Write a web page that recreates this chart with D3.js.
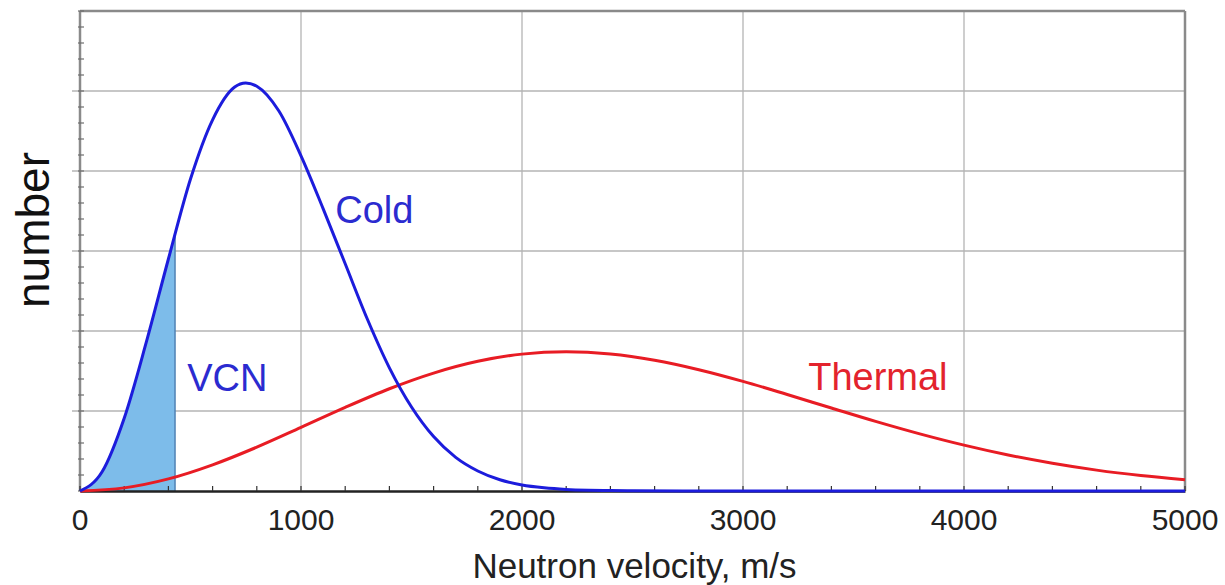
<!DOCTYPE html>
<html>
<head>
<meta charset="utf-8">
<script src="https://cdn.jsdelivr.net/npm/d3@7/dist/d3.min.js"></script>
<style>
  html, body { margin: 0; padding: 0; background: #fff; }
  svg { display: block; font-family: "Liberation Sans", Arial, sans-serif; }
</style>
</head>
<body>
<svg id="chart" width="1225" height="585"></svg>
<script>
// ---- data ----
const xTickValues = [0, 1000, 2000, 3000, 4000, 5000];
const xMinorStep = 200;
const yGridValues = [1, 2, 3, 4, 5];
const yMax = 6;
const xMax = 5000;

const coldV = [0, 100, 200, 300, 400, 500, 600, 700, 750, 800, 900, 1000, 1100, 1200, 1300, 1400,
               1500, 1600, 1700, 1800, 1900, 2000, 2100, 2200, 2300, 2400, 2500, 3000, 3500, 4000, 4500, 5000];
const coldN = [0, 0.24, 0.91, 1.86, 2.90, 3.90, 4.64, 5.05, 5.10, 5.06, 4.75, 4.19, 3.53, 2.84, 2.15, 1.54,
               1.05, 0.68, 0.42, 0.25, 0.14, 0.075, 0.04, 0.02, 0.01, 0.005, 0.002, 0, 0, 0, 0, 0];

const thermalV = [0, 200, 400, 600, 800, 1000, 1200, 1400, 1600, 1800, 2000, 2200, 2400, 2600,
                  2800, 3000, 3200, 3400, 3600, 3800, 4000, 4200, 4400, 4600, 4800, 5000];
const thermalN = [0, 0.039, 0.151, 0.327, 0.548, 0.795, 1.045, 1.278, 1.474, 1.621, 1.711, 1.74, 1.712, 1.634,
                  1.516, 1.370, 1.206, 1.037, 0.870, 0.714, 0.573, 0.450, 0.347, 0.261, 0.193, 0.140];

const vcnLimit = 430;

const labels = [
  { text: "Cold", v: 1155, n: 3.35, color: "#2b2bd0" },
  { text: "VCN", v: 485, n: 1.25, color: "#2b2bd0" },
  { text: "Thermal", v: 3295, n: 1.26, color: "#e3232d" }
];

// ---- layout ----
const svg = d3.select("#chart");
const mLeft = 80, mRight = 1185, mTop = 11, mBottom = 491;

const x = d3.scaleLinear().domain([0, xMax]).range([mLeft, mRight]);
const y = d3.scaleLinear().domain([0, yMax]).range([mBottom, mTop]);

// grid
svg.append("g").selectAll("line").data(yGridValues).join("line")
  .attr("x1", mLeft - 8).attr("x2", mRight)
  .attr("y1", d => y(d)).attr("y2", d => y(d))
  .attr("stroke", "#b4b4b4").attr("stroke-width", 1.3);

svg.append("g").selectAll("line").data(xTickValues.filter(d => d > 0 && d < xMax)).join("line")
  .attr("x1", d => x(d)).attr("x2", d => x(d))
  .attr("y1", mTop).attr("y2", mBottom)
  .attr("stroke", "#b4b4b4").attr("stroke-width", 1.3);

// frame
svg.append("line").attr("x1", mLeft).attr("x2", mRight).attr("y1", mTop).attr("y2", mTop)
  .attr("stroke", "#8a8a8a").attr("stroke-width", 2.5);
svg.append("line").attr("x1", mRight).attr("x2", mRight).attr("y1", mTop).attr("y2", mBottom)
  .attr("stroke", "#8a8a8a").attr("stroke-width", 2.5);
svg.append("line").attr("x1", mLeft).attr("x2", mLeft).attr("y1", mTop).attr("y2", mBottom)
  .attr("stroke", "#8a8a8a").attr("stroke-width", 2.5);

// left axis minor ticks
const yMinor = d3.range(0, yMax + 0.001, 0.2);
svg.append("g").selectAll("line").data(yMinor).join("line")
  .attr("x1", mLeft - 2).attr("x2", mLeft + 4)
  .attr("y1", d => y(d)).attr("y2", d => y(d))
  .attr("stroke", "#6e6e6e").attr("stroke-width", 1.2);

// VCN shaded area
const areaGen = d3.area().x((d, i) => x(coldV[i])).y0(y(0)).y1((d, i) => y(coldN[i]))
  .curve(d3.curveMonotoneX);
const defs = svg.append("defs");
defs.append("clipPath").attr("id", "vcnClip").append("rect")
  .attr("x", x(0)).attr("y", mTop).attr("width", x(vcnLimit) - x(0)).attr("height", mBottom - mTop);
defs.append("clipPath").attr("id", "coldClip").append("path").attr("d", areaGen(coldN));
svg.append("path").attr("d", areaGen(coldN)).attr("clip-path", "url(#vcnClip)")
  .attr("fill", "#7dbcea");
svg.append("line").attr("x1", x(vcnLimit)).attr("x2", x(vcnLimit))
  .attr("y1", y(0)).attr("y2", y(yMax)).attr("clip-path", "url(#coldClip)")
  .attr("stroke", "#4f82b4").attr("stroke-width", 1.5);

// bottom axis
const xAxis = d3.axisBottom(x).tickValues(d3.range(0, xMax + 1, xMinorStep)).tickSize(0).tickFormat("");
const gx = svg.append("g").attr("transform", `translate(0,${mBottom})`).call(xAxis);
gx.select(".domain").attr("stroke", "#222").attr("stroke-width", 2.5);
svg.append("g").selectAll("line").data(d3.range(0, xMax + 1, xMinorStep)).join("line")
  .attr("x1", d => x(d)).attr("x2", d => x(d))
  .attr("y1", mBottom).attr("y2", mBottom - 5)
  .attr("stroke", "#333").attr("stroke-width", 1.2);
svg.append("g").selectAll("text").data(xTickValues).join("text")
  .attr("x", d => x(d)).attr("y", 530)
  .attr("text-anchor", "middle").attr("font-size", 30).attr("fill", "#222")
  .text(d => d);

// curves
const lineV = vArr => d3.line().x((d, i) => x(vArr[i])).y(d => y(d)).curve(d3.curveMonotoneX);
svg.append("path").attr("d", lineV(thermalV)(thermalN))
  .attr("fill", "none").attr("stroke", "#e81c24").attr("stroke-width", 3);
svg.append("path").attr("d", lineV(coldV)(coldN))
  .attr("fill", "none").attr("stroke", "#1c1cdc").attr("stroke-width", 3);

// labels
svg.append("g").selectAll("text").data(labels).join("text")
  .attr("x", d => x(d.v)).attr("y", d => y(d.n))
  .attr("font-size", 38).attr("fill", d => d.color)
  .text(d => d.text);

// axis titles
svg.append("text").attr("x", (mLeft + mRight) / 2 + 2).attr("y", 578)
  .attr("text-anchor", "middle").attr("font-size", 35).attr("fill", "#222")
  .text("Neutron velocity, m/s");
svg.append("text").attr("transform", "translate(49,230) rotate(-90)")
  .attr("text-anchor", "middle").attr("font-size", 46).attr("fill", "#111")
  .text("number");
</script>
</body>
</html>
